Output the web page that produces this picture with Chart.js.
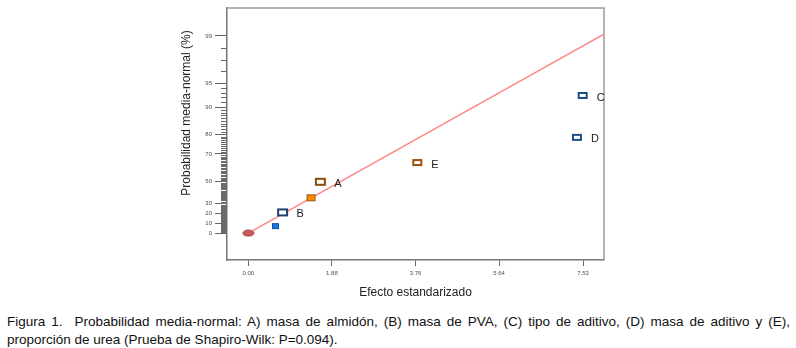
<!DOCTYPE html>
<html>
<head>
<meta charset="utf-8">
<script src="https://cdn.jsdelivr.net/npm/chart.js@4.4.1/dist/chart.umd.min.js"></script>
<style>
	body { margin:0; background:#fff; font-family:"Liberation Sans", Arial, sans-serif; }
	#wrap { width:796px; height:305px; }
	#caption { margin:8px 0 0 7px; width:783px; font-size:13.5px; line-height:18px; color:#111; text-align:justify; text-align-last:left; }
</style>
</head>
<body>
<div id="wrap"><canvas id="myChart" width="796" height="305"></canvas></div>
<div id="caption">Figura 1.&nbsp; Probabilidad media-normal: A) masa de almidón, (B) masa de PVA, (C) tipo de aditivo, (D) masa de aditivo y (E), proporción de urea (Prueba de Shapiro-Wilk: P=0.094).</div>
<script>
"use strict";

// effects (x = standardized effect, y = normal score of the plotted probability)
let effectNames=["", "", "B", "", "A", "E", "D", "C"];
let effectX=[0.00, 0.61, 0.77, 1.41, 1.62, 3.80, 7.39, 7.52];
let effectY=[-0.857, -0.74, -0.512, -0.267, 0.0, 0.322, 0.743, 1.443];

// reference line
let lineX=[0.0, 8.0];
let lineY=[-0.857, 2.467];

// axis ticks
let xTicks=[0.00, 1.88, 3.76, 5.64, 7.53];
let yTickLabels=[0, 10, 20, 30, 50, 70, 80, 90, 95, 99];
let yTickPos=[-0.857, -0.69, -0.528, -0.367, 0.0, 0.467, 0.788, 1.25, 1.65, 2.438];

// marker look for every point: w, h, fill, stroke, line width, ellipse
let markerLook=[
	[11, 6, "#c85a5a", "#9a3a3a", 1, true],
	[7, 6, "#1c74e0", "#1050a0", 1, false],
	[11, 8, "#ffffff", "#1f3f6f", 2, false],
	[9, 7, "#ff8a00", "#9a5a10", 1, false],
	[11, 8, "#ffffff", "#8a4a10", 2, false],
	[10, 7, "#ffffff", "#9a5010", 2, false],
	[10, 7, "#ffffff", "#1f4f80", 2, false],
	[10, 7, "#ffffff", "#1f4f80", 2, false]
];

function makeMarker(w, h, fill, stroke, lw, ellipse) {
	let c=document.createElement("canvas");
	c.width=w+2; c.height=h+2;
	let ctx=c.getContext("2d");
	ctx.fillStyle=fill;
	ctx.strokeStyle=stroke;
	ctx.lineWidth=lw;
	if(ellipse)
	{
		ctx.beginPath();
		ctx.ellipse(c.width/2, c.height/2, w/2, h/2, 0, 0, Math.PI*2);
		ctx.fill();
		ctx.stroke();
	}
	else
	{
		ctx.fillRect(1, 1, w, h);
		ctx.strokeRect(1+lw/2, 1+lw/2, w-lw, h-lw);
	}
	return c;
}

// percent -> score, interpolated between the labelled ticks
function percentToScore(p) {
	for(let i=0;i<yTickLabels.length-1;i++)
	{
		let a=yTickLabels[i], b=yTickLabels[i+1];
		if(p>=a && p<=b)
			return yTickPos[i]+(p-a)/(b-a)*(yTickPos[i+1]-yTickPos[i]);
	}
	return null;
}

let minorTicks=[];
for(let p=1;p<99;p++)
{
	if(yTickLabels.indexOf(p)<0)
		minorTicks.push(p);
}

let points=effectX.map((x, i) => ({x: x, y: effectY[i]}));
let fitLine=lineX.map((x, i) => ({x: x, y: lineY[i]}));
let markers=markerLook.map(m => makeMarker(m[0], m[1], m[2], m[3], m[4], m[5]));

// frame, minor ticks, point labels and y title
let extras={
	id: "extras",
	beforeDatasetsDraw(chart) {
		let ctx=chart.ctx, a=chart.chartArea, y=chart.scales.y;
		ctx.save();
		ctx.strokeStyle="#9a9a9a";
		ctx.lineWidth=1.5;
		ctx.beginPath();
		ctx.moveTo(a.left, a.top);
		ctx.lineTo(a.right, a.top);
		ctx.lineTo(a.right, a.bottom);
		ctx.stroke();
		ctx.strokeStyle="#6a6a6a";
		ctx.lineWidth=1;
		ctx.beginPath();
		for(let p of minorTicks)
		{
			let py=Math.round(y.getPixelForValue(percentToScore(p)))+0.5;
			ctx.moveTo(a.left-6, py);
			ctx.lineTo(a.left, py);
		}
		ctx.stroke();
		ctx.restore();
	},
	afterDatasetsDraw(chart) {
		let ctx=chart.ctx;
		let meta=chart.getDatasetMeta(1);
		ctx.save();
		ctx.fillStyle="#222";
		ctx.font="11px 'Liberation Sans', Arial";
		ctx.textBaseline="middle";
		meta.data.forEach((pt, i) => {
			if(effectNames[i]!="")
				ctx.fillText(effectNames[i], pt.x+14, pt.y+2);
		});
		ctx.translate(187, 113);
		ctx.rotate(-Math.PI/2);
		ctx.textAlign="center";
		ctx.font="12px 'Liberation Sans', Arial";
		ctx.fillText("Probabilidad media-normal (%)", 0, 0);
		ctx.restore();
	}
};

let myChart=new Chart(document.getElementById("myChart"), {
	type: "scatter",
	data: {
		datasets: [
			{
				type: "line",
				data: fitLine,
				borderColor: "#ff8686",
				borderWidth: 1.5,
				pointRadius: 0,
				order: 2
			},
			{
				data: points,
				pointStyle: markers,
				pointRadius: 5,
				order: 1
			}
		]
	},
	options: {
		responsive: false,
		animation: false,
		devicePixelRatio: 1,
		layout: { padding: { left: 177, right: 192, top: 8, bottom: 5 } },
		plugins: { legend: { display: false }, tooltip: { enabled: false } },
		scales: {
			x: {
				type: "linear",
				min: -0.48,
				max: 8.0,
				afterFit: function(s) { s.height=40; },
				afterBuildTicks: function(s) { s.ticks=xTicks.map(v => ({value: v})); },
				grid: { drawOnChartArea: false, tickLength: 6, color: "#666" },
				border: { color: "#777", width: 1.5 },
				ticks: {
					autoSkip: false,
					maxRotation: 0,
					padding: 4,
					color: "#4a4a5a",
					font: { size: 6, family: "'Liberation Sans', Arial" },
					callback: function(v) { return Number(v).toFixed(2); }
				},
				title: {
					display: true,
					text: "Efecto estandarizado",
					color: "#222",
					padding: { top: 0, bottom: 0 },
					font: { size: 12, family: "'Liberation Sans', Arial" }
				}
			},
			y: {
				type: "linear",
				min: -1.307,
				max: 2.905,
				afterFit: function(s) { s.width=50; },
				afterBuildTicks: function(s) { s.ticks=yTickPos.map(v => ({value: v})); },
				grid: { drawOnChartArea: false, tickLength: 12, color: "#666" },
				border: { color: "#777", width: 1.5 },
				ticks: {
					autoSkip: false,
					padding: 3,
					color: "#4a4a5a",
					font: { size: 6, family: "'Liberation Sans', Arial" },
					callback: function(v, i) { return yTickLabels[i]; }
				}
			}
		}
	},
	plugins: [extras]
});
</script>
</body>
</html>
